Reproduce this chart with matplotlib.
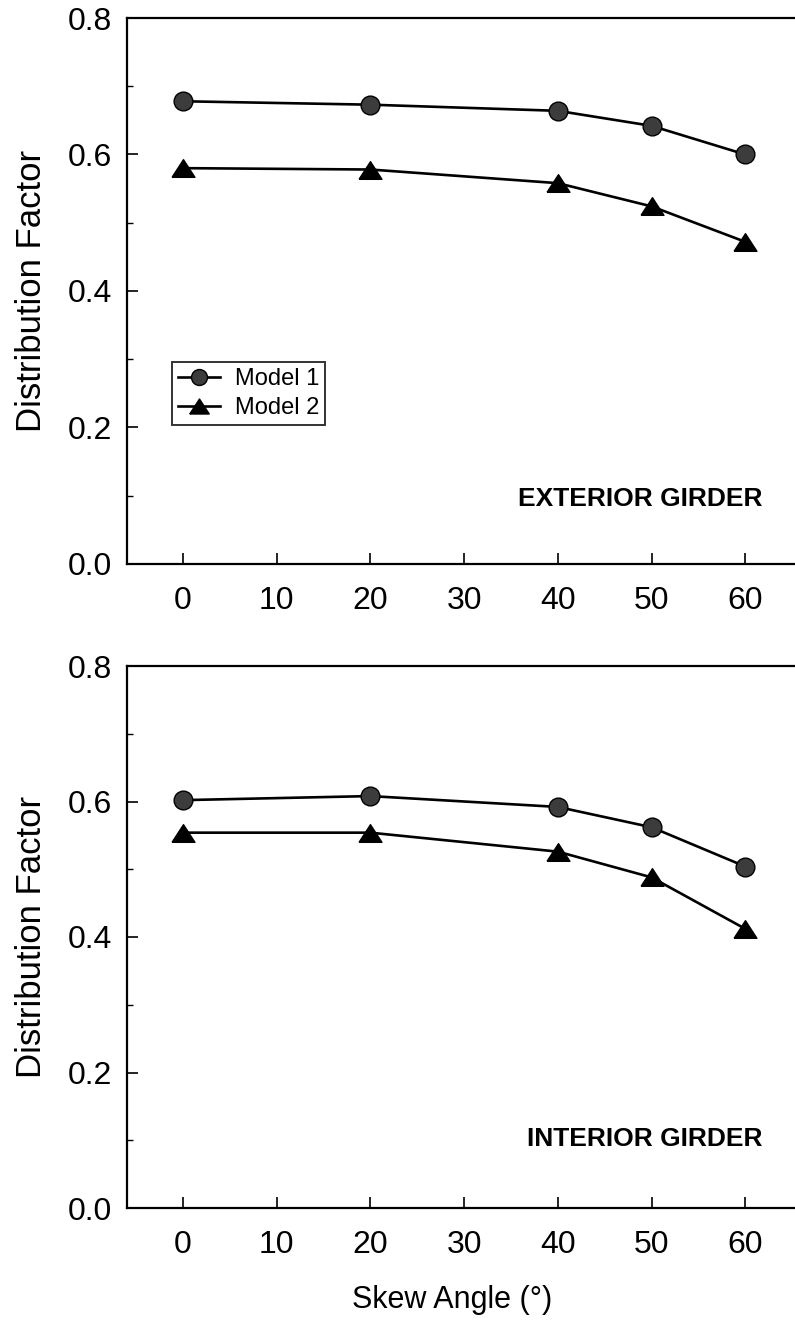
import matplotlib
matplotlib.use("Agg")
import matplotlib.pyplot as plt
from matplotlib.ticker import MultipleLocator

# skew angles (deg) and distribution factors
angles = [0, 20, 40, 50, 60]
ext_model1 = [0.678, 0.673, 0.664, 0.642, 0.600]
ext_model2 = [0.580, 0.578, 0.558, 0.524, 0.472]
int_model1 = [0.602, 0.608, 0.592, 0.562, 0.504]
int_model2 = [0.554, 0.554, 0.526, 0.488, 0.412]
panel_titles = ["EXTERIOR GIRDER", "INTERIOR GIRDER"]
series_names = ["Model 1", "Model 2"]

plt.rcParams['font.family'] = ['Liberation Sans', 'DejaVu Sans']

# wide, flat triangle like the original
tri = [(-1, -0.77), (1, -0.77), (0, 0.77), (-1, -0.77)]

fig = plt.figure(figsize=(7.95, 13.28), dpi=100)
ax_top = fig.add_axes([127/795, 1 - 564/1328, 1 - 127/795, 546/1328])
ax_bot = fig.add_axes([127/795, 1 - 1208/1328, 1 - 127/795, 542/1328])

panels = [(ax_top, ext_model1, ext_model2, panel_titles[0], 0.095),
          (ax_bot, int_model1, int_model2, panel_titles[1], 0.102)]

for ax, m1, m2, title, ty in panels:
    ax.plot(angles, m1, color='black', lw=1.9, marker='o', ms=13.5,
            mfc='#3c3c3c', mec='black', mew=1, label=series_names[0])
    ax.plot(angles, m2, color='black', lw=1.9, marker=tri, ms=16.5,
            mfc='black', mec='black', label=series_names[1])

    ax.set_xlim(-5.95, 65.3)
    ax.set_ylim(0, 0.8)
    ax.xaxis.set_major_locator(MultipleLocator(10))
    ax.yaxis.set_major_locator(MultipleLocator(0.2))
    ax.yaxis.set_minor_locator(MultipleLocator(0.1))
    ax.yaxis.set_major_formatter(plt.FormatStrFormatter('%.1f'))
    ax.tick_params(axis='both', which='major', direction='in', length=8,
                   width=1.2, labelsize=23)
    ax.tick_params(axis='y', which='minor', direction='in', length=4, width=1)
    ax.tick_params(axis='y', which='both', pad=11)
    ax.tick_params(axis='x', which='major', pad=16)
    ax.tick_params(top=False, right=False)
    ax.spines['right'].set_visible(False)
    for s in ['left', 'bottom', 'top']:
        ax.spines[s].set_linewidth(1.6)

    ax.set_ylabel('Distribution Factor', fontsize=25)
    ax.yaxis.set_label_coords(-0.118, 0.5)

    ax.text(61.8, ty, title, ha='right', va='center', fontsize=19,
            fontweight='bold')

leg = ax_top.legend(loc='upper left', bbox_to_anchor=(0.0674, 0.370),
                    borderaxespad=0, fontsize=17, frameon=True, fancybox=False,
                    edgecolor='black', handlelength=1.8, handletextpad=0.6,
                    borderpad=0.25, labelspacing=0.3, markerscale=0.85)
leg.get_frame().set_linewidth(1.4)

fig.text(452/795, 1 - 1300/1328, 'Skew Angle (°)', ha='center', va='center',
         fontsize=22)

fig.savefig('out.png', dpi=100)
